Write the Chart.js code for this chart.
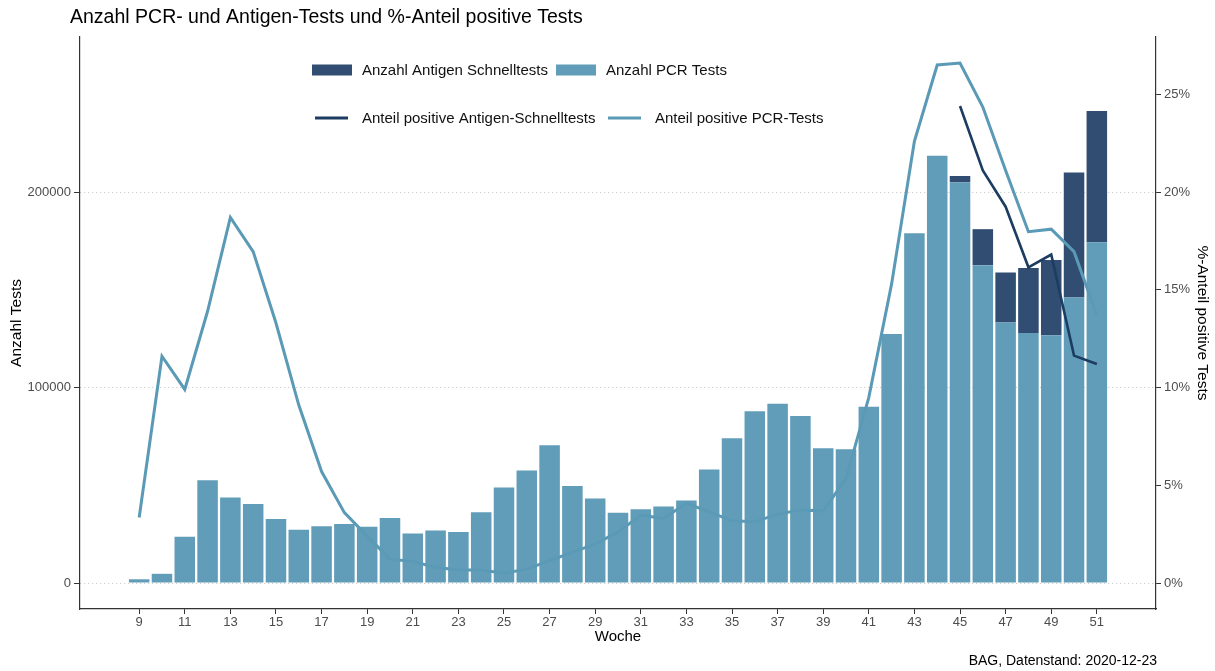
<!DOCTYPE html>
<html>
<head>
<meta charset="utf-8">
<style>
html,body{margin:0;padding:0;background:#fff;}
#wrap{width:1215px;height:671px;position:relative;}
</style>
<script src="https://cdn.jsdelivr.net/npm/chart.js@4.4.0/dist/chart.umd.min.js"></script>
</head>
<body>
<div id="wrap"><canvas id="c"></canvas></div>
<script>
// ---- data ----
const weeks = [9,10,11,12,13,14,15,16,17,18,19,20,21,22,23,24,25,26,27,28,29,30,31,32,33,34,35,36,37,38,39,40,41,42,43,44,45,46,47,48,49,50,51];
const pcrTests = [1900,4700,23700,52500,43800,40400,32700,27300,29000,30200,28800,33200,25300,26800,26100,36200,48800,57600,70500,49600,43200,35900,37700,39100,42200,58000,74100,87900,91700,85400,68900,68400,90100,127400,178900,218500,204900,162600,133300,127900,126700,146100,174300];
const antigenWeeks = [45,46,47,48,49,50,51];
const antigenTests = [3300,18400,25500,33200,38500,63900,67200];
const pcrPositive = [3.35,11.6,9.9,13.9,18.7,16.95,13.3,9.1,5.7,3.6,2.4,1.22,1.1,0.8,0.66,0.66,0.5,0.71,1.14,1.57,2.0,2.6,3.47,3.3,4.08,3.64,3.18,3.13,3.52,3.74,3.69,5.34,9.5,15.3,22.6,26.5,26.6,24.35,21.1,17.97,18.1,16.95,13.7];
const antigenPositive = [24.4,21.1,19.25,16.15,16.8,11.63,11.2];
const xTicks = [9,11,13,15,17,19,21,23,25,27,29,31,33,35,37,39,41,43,45,47,49,51];
const leftTicks = [0,100000,200000];
const rightTicks = [0,5,10,15,20,25];

const titleText = 'Anzahl PCR- und Antigen-Tests und %-Anteil positive Tests';
const captionText = 'BAG, Datenstand: 2020-12-23';

const FONT = '"Liberation Sans", Arial, Helvetica, sans-serif';
const COL_PCR_BAR = '#619db8';
const COL_AG_BAR = '#314d72';
const COL_PCR_LINE = '#5b9ab6';
const COL_AG_LINE = '#1c3c62';

const overlay = {
  id: 'overlay',
  afterDraw(chart) {
    const ctx = chart.ctx, a = chart.chartArea;
    ctx.save();
    ctx.textBaseline = 'middle';
    ctx.textAlign = 'left';
    ctx.fillStyle = '#000';
    ctx.font = '19.5px ' + FONT;
    ctx.fillText(titleText, a.left - 10, 18);

    const ds = chart.data.datasets;
    ctx.font = '15px ' + FONT;
    // row 1: bars (Antigen first, then PCR)
    const r1 = 70;
    const bars = [ds[1], ds[0]];
    const barX = [312, 556];
    bars.forEach((d, i) => {
      ctx.fillStyle = d.backgroundColor;
      ctx.fillRect(barX[i], r1 - 5.5, 40, 11);
      ctx.fillStyle = '#111';
      ctx.fillText(d.label, barX[i] + 50, r1 + 1);
    });
    // row 2: lines
    const r2 = 118;
    const lines = [ds[3], ds[2]];
    const lineX = [315, 608];
    lines.forEach((d, i) => {
      ctx.strokeStyle = d.borderColor;
      ctx.lineWidth = 3;
      ctx.beginPath();
      ctx.moveTo(lineX[i], r2);
      ctx.lineTo(lineX[i] + 33, r2);
      ctx.stroke();
      ctx.fillStyle = '#111';
      ctx.fillText(d.label, lineX[i] + 47, r2 + 1);
    });

    ctx.textAlign = 'right';
    ctx.fillStyle = '#000';
    ctx.font = '14px ' + FONT;
    ctx.fillText(captionText, a.right + 1, 661);
    ctx.restore();
  }
};

const cfg = {
  type: 'bar',
  data: {
    datasets: [
      {
        type: 'bar', label: 'Anzahl PCR Tests',
        data: weeks.map((w, i) => ({x: w, y: pcrTests[i]})),
        backgroundColor: COL_PCR_BAR, borderWidth: 0,
        barPercentage: 0.9, categoryPercentage: 1,
        xAxisID: 'x', yAxisID: 'y', order: 2
      },
      {
        type: 'bar', label: 'Anzahl Antigen Schnelltests',
        data: antigenWeeks.map((w, i) => ({x: w, y: antigenTests[i]})),
        backgroundColor: COL_AG_BAR, borderWidth: 0,
        barPercentage: 0.9, categoryPercentage: 1,
        xAxisID: 'x', yAxisID: 'y', order: 2
      },
      {
        type: 'line', label: 'Anteil positive PCR-Tests',
        data: weeks.map((w, i) => ({x: w, y: pcrPositive[i]})),
        borderColor: COL_PCR_LINE, backgroundColor: COL_PCR_LINE,
        borderWidth: 3, pointRadius: 0, tension: 0, fill: false,
        xAxisID: 'x', yAxisID: 'y2', order: 1
      },
      {
        type: 'line', label: 'Anteil positive Antigen-Schnelltests',
        data: antigenWeeks.map((w, i) => ({x: w, y: antigenPositive[i]})),
        borderColor: COL_AG_LINE, backgroundColor: COL_AG_LINE,
        borderWidth: 2.6, pointRadius: 0, tension: 0, fill: false,
        xAxisID: 'x', yAxisID: 'y2', order: 0
      }
    ]
  },
  options: {
    responsive: true,
    maintainAspectRatio: false,
    animation: false,
    devicePixelRatio: 1,
    layout: {padding: {top: 37, left: 0, right: 0, bottom: 0}},
    plugins: {legend: {display: false}, title: {display: false}, tooltip: {enabled: false}},
    scales: {
      x: {
        type: 'linear', position: 'bottom', min: 6.405, max: 53.595, offset: false, stacked: true,
        afterBuildTicks: s => { s.ticks = xTicks.map(v => ({value: v})); },
        afterFit: s => { s.height = 62; },
        ticks: {callback: v => String(v), color: '#4d4d4d', font: {family: FONT, size: 13}, padding: 1, maxRotation: 0, autoSkip: false},
        grid: {drawOnChartArea: false, drawTicks: true, tickLength: 5, tickColor: '#333', offset: false},
        border: {display: true, color: '#333', width: 1.2},
        title: {display: true, text: 'Woche', color: '#000', font: {family: FONT, size: 15}, padding: {top: 0, bottom: 25}}
      },
      y: {
        type: 'linear', position: 'left', min: -13300, max: 279300, stacked: true,
        afterBuildTicks: s => { s.ticks = leftTicks.map(v => ({value: v})); },
        afterFit: s => { s.width = 80; },
        ticks: {callback: v => String(v), color: '#4d4d4d', font: {family: FONT, size: 13}, padding: 3},
        grid: {drawOnChartArea: true, drawTicks: true, tickLength: 6, color: '#c4c4c4', lineWidth: 1, tickColor: '#333', tickBorderDash: []},
        border: {display: true, color: '#333', width: 1.2, dash: [1, 3]},
        title: {display: true, text: 'Anzahl Tests', color: '#000', font: {family: FONT, size: 15.5}, padding: {top: 7, bottom: 0}}
      },
      y2: {
        type: 'linear', position: 'right', min: -1.33, max: 27.93, stacked: false,
        afterBuildTicks: s => { s.ticks = rightTicks.map(v => ({value: v})); },
        afterFit: s => { s.width = 59; },
        ticks: {callback: v => v + '%', color: '#4d4d4d', font: {family: FONT, size: 13}, padding: 3},
        grid: {drawOnChartArea: false, drawTicks: true, tickLength: 5, tickColor: '#333'},
        border: {display: true, color: '#333', width: 1.2},
        title: {display: true, text: '%-Anteil positive Tests', color: '#000', font: {family: FONT, size: 15.5}, padding: {top: 3, bottom: 3}}
      }
    }
  },
  plugins: [overlay]
};

new Chart(document.getElementById('c'), cfg);
</script>
</body>
</html>
